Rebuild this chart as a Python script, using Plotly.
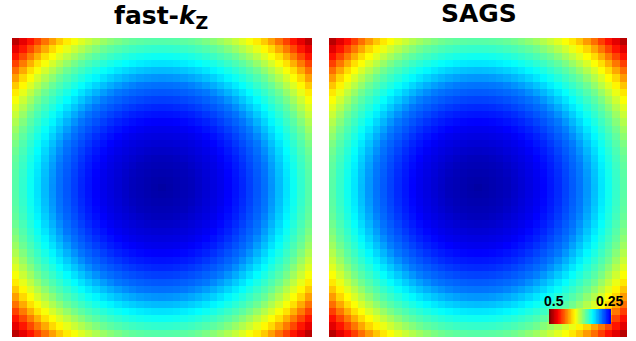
import numpy as np
import plotly.graph_objects as go

# ---- data ----
TITLES = ["<b>fast-<i>k</i><sub>Z</sub></b>", "<b>SAGS</b>"]
# radial profile: distance from centre (1 = edge midpoint) vs. value
RADIUS = [0.0, 0.2, 0.4, 0.53, 0.7, 0.85, 1.0, 1.18, 1.3, 1.37, 1.42]
FASTKZ_VALUES = [0.229, 0.236, 0.250, 0.264, 0.288, 0.322, 0.353, 0.405, 0.455, 0.480, 0.499]
SAGS_VALUES = [0.229, 0.236, 0.251, 0.265, 0.289, 0.323, 0.354, 0.406, 0.456, 0.481, 0.500]
CBAR_TICKS = [0.5, 0.25]
N_CELLS = 41
ZMIN, ZMAX = 0.22, 0.5

JET = [[0.0, "rgb(0,0,131)"], [0.125, "rgb(0,0,255)"], [0.375, "rgb(0,255,255)"],
       [0.625, "rgb(255,255,0)"], [0.875, "rgb(255,0,0)"], [1.0, "rgb(128,0,0)"]]

half = (N_CELLS - 1) / 2
idx = np.arange(N_CELLS) - half
dist = np.sqrt(idx[None, :] ** 2 + idx[:, None] ** 2) / (half + 0.5)


def grid(values):
    return np.interp(dist, RADIUS, values)


W, H = 636, 341
fig = go.Figure()
panels = [(FASTKZ_VALUES, "x", "y"), (SAGS_VALUES, "x2", "y2")]
for vals, xa, ya in panels:
    fig.add_trace(go.Heatmap(z=grid(vals), x=idx, y=idx, colorscale=JET, zmin=ZMIN, zmax=ZMAX,
                             showscale=False, zsmooth=False, xaxis=xa, yaxis=ya, hoverinfo="skip"))

cbar_z = [list(np.linspace(CBAR_TICKS[0], CBAR_TICKS[1], 80))]
fig.add_trace(go.Heatmap(z=cbar_z, colorscale=JET, zmin=ZMIN, zmax=ZMAX, showscale=False,
                         zsmooth=False, xaxis="x3", yaxis="y3", hoverinfo="skip"))

ydom = [1 - 337 / H, 1 - 38 / H]
ax = dict(showticklabels=False, showgrid=False, zeroline=False, ticks="", showline=False)
rng = [-half - 0.5, half + 0.5]
fig.update_layout(
    width=W, height=H, margin=dict(l=0, r=0, t=0, b=0),
    paper_bgcolor="white", plot_bgcolor="white",
    xaxis=dict(domain=[12 / W, 312 / W], range=rng, **ax),
    yaxis=dict(domain=ydom, range=rng, **ax),
    xaxis2=dict(domain=[329 / W, 627 / W], range=rng, **ax),
    yaxis2=dict(domain=ydom, range=rng, **ax),
    xaxis3=dict(domain=[549 / W, 611 / W], range=[-0.5, 79.5], showticklabels=False, showgrid=False,
                zeroline=False, ticks="", showline=True, linecolor="white", linewidth=2, mirror=True),
    yaxis3=dict(domain=[1 - 324 / H, 1 - 309 / H], range=[-0.5, 0.5], showticklabels=False,
                showgrid=False, zeroline=False, ticks="", showline=True, linecolor="white",
                linewidth=2, mirror=True),
    showlegend=False,
)

tfont = "DejaVu Sans, Arial, sans-serif"
for t, xc, yc in zip(TITLES, [161, 479], [17, 14]):
    fig.add_annotation(text=t, x=xc / W, y=1 - yc / H, xref="paper", yref="paper",
                       xanchor="center", yanchor="middle", showarrow=False,
                       font=dict(family=tfont, size=25, color="black"))

lfont = "Liberation Sans, Arial, sans-serif"
for val, xc, anchor in [(CBAR_TICKS[0], 542, "left"), (CBAR_TICKS[1], 625, "right")]:
    fig.add_annotation(text=f"<b>{val:g}</b>", x=xc / W, y=1 - 301 / H, xref="paper", yref="paper",
                       xanchor=anchor, yanchor="middle", showarrow=False,
                       font=dict(family=lfont, size=14, color="black"))

fig.write_html("out.html", config={"displayModeBar": False, "staticPlot": True},
               post_script="document.body.style.margin='0px';")
